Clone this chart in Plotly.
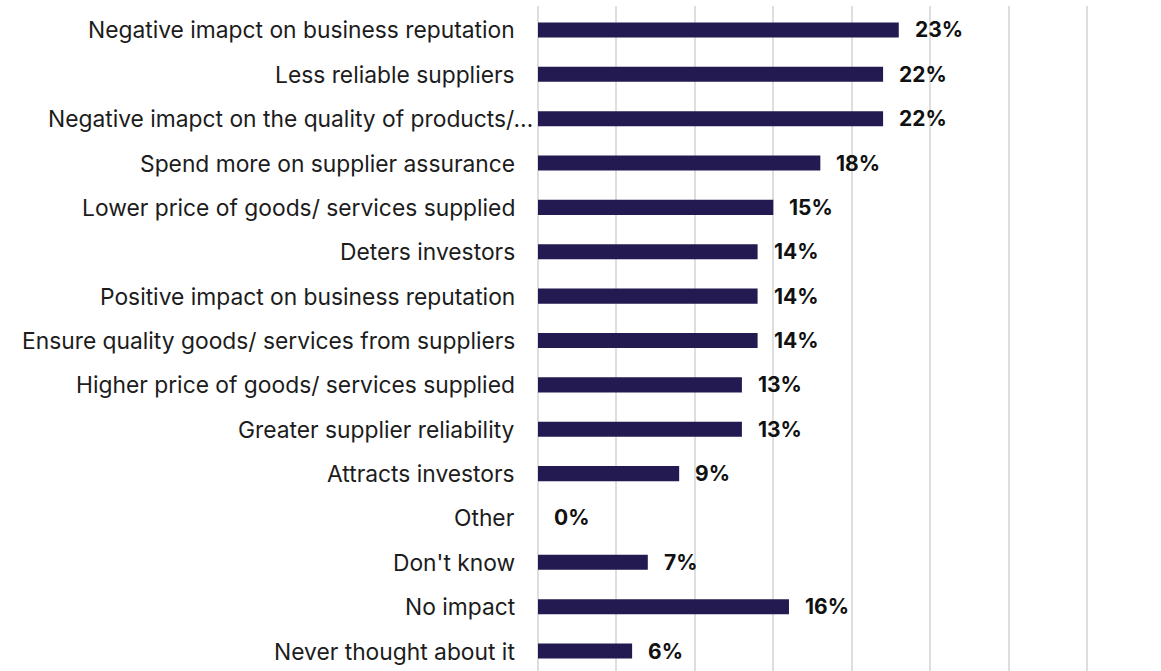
import plotly.graph_objects as go

# Survey responses: perceived impact, share of respondents (%)
categories = [
    "Negative imapct on business reputation",
    "Less reliable suppliers",
    "Negative imapct on the quality of products/\u2026",
    "Spend more on supplier assurance",
    "Lower price of goods/ services supplied",
    "Deters investors",
    "Positive impact on business reputation",
    "Ensure quality goods/ services from suppliers",
    "Higher price of goods/ services supplied",
    "Greater supplier reliability",
    "Attracts investors",
    "Other",
    "Don't know",
    "No impact",
    "Never thought about it",
]
values = [23, 22, 22, 18, 15, 14, 14, 14, 13, 13, 9, 0, 7, 16, 6]
x_ticks = [0, 5, 10, 15, 20, 25, 30, 35]

BAR_COLOR = "#221a50"
FONT = "Inter, Roboto, 'Noto Sans', sans-serif"

idx = list(range(len(categories)))

fig = go.Figure(
    go.Bar(
        x=values,
        y=idx,
        orientation="h",
        marker=dict(color=BAR_COLOR, line=dict(width=0)),
        width=0.34,
        hoverinfo="skip",
    )
)

annotations = []
for i, (cat, v) in enumerate(zip(categories, values)):
    # value label to the right of each bar
    annotations.append(dict(
        x=v, y=i, xref="x", yref="y", text=f"<b>{v}%</b>",
        showarrow=False, xanchor="left", yanchor="middle", xshift=14,
        font=dict(family=FONT, size=21, color="#111111"),
    ))
    # category label to the left of the axis
    shift = -3 if cat.endswith("\u2026") else -21
    annotations.append(dict(
        x=0, y=i, xref="x", yref="y", text=cat,
        showarrow=False, xanchor="right", yanchor="middle", xshift=shift,
        font=dict(family=FONT, size=22.8, color="#1c1c1c"),
    ))

# a few pixels of padding on both ends so the 0 and 35 gridlines are drawn
PX_PER_UNIT = 15.686
pad = 4 / PX_PER_UNIT
fig.update_layout(
    width=1161, height=671,
    margin=dict(l=534, r=70, t=6, b=0),
    plot_bgcolor="white", paper_bgcolor="white",
    showlegend=False,
    annotations=annotations,
    xaxis=dict(
        range=[-pad, 35 + pad], tickvals=x_ticks, showticklabels=False,
        showgrid=True, gridcolor="#dedede", gridwidth=2,
        zeroline=False, showline=False, fixedrange=True,
    ),
    yaxis=dict(
        range=[14.45, -0.54], showticklabels=False, showgrid=False,
        zeroline=False, showline=False, fixedrange=True,
    ),
)

fig.write_html("out.html")
